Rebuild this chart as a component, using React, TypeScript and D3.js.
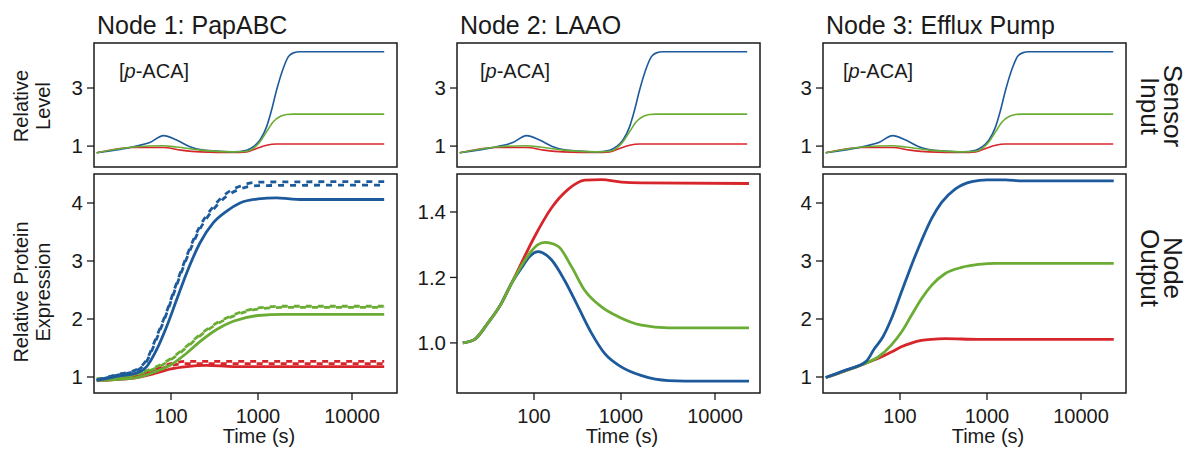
import React from 'react';
import * as d3 from 'd3';

type P = [number, number];

// ---------- data (time in s, relative value) ----------
const panelTitles = ['Node 1: PapABC', 'Node 2: LAAO', 'Node 3: Efflux Pump'];
const xTickValues = [100, 1000, 10000];
const sensorTicks = [1, 3];
const outputTicks = [[1, 2, 3, 4], [1.0, 1.2, 1.4], [1, 2, 3, 4]];

const sensorBlue: P[] = [[14,0.77],[37,0.98],[57,1.12],[82,1.36],[116,1.21],[165,0.98],[215,0.88],[335,0.83],[520,0.80],[741,0.86],[884,0.98],[1050,1.21],[1236,1.67],[1397,2.25],[1580,2.94],[1862,3.69],[2104,4.08],[2377,4.21],[2800,4.25],[22000,4.25]];
const sensorGreen: P[] = [[14,0.77],[37,0.97],[82,1.01],[116,0.97],[215,0.86],[520,0.80],[741,0.82],[884,0.92],[1050,1.15],[1236,1.5],[1455,1.84],[1714,2.02],[2018,2.09],[2377,2.1],[22000,2.1]];
const sensorRed: P[] = [[14,0.77],[37,0.95],[82,0.95],[130,0.86],[215,0.80],[520,0.78],[741,0.80],[966,0.92],[1236,1.03],[1580,1.07],[2018,1.07],[22000,1.07]];

const node1BlueSolid: P[] = [[14,0.94],[23.7,1.01],[40.3,1.07],[52.5,1.18],[68.4,1.47],[89.2,1.87],[116,2.33],[151,2.79],[215,3.31],[307,3.66],[437,3.86],[621,4.0],[1000,4.07],[1580,4.09],[2188,4.07],[2800,4.06],[22000,4.06]];
const node1BlueDashA: P[] = [[14,0.95],[23.7,1.04],[40.3,1.13],[52.5,1.3],[68.4,1.7],[89.2,2.13],[116,2.62],[151,3.08],[215,3.6],[307,3.94],[437,4.17],[621,4.29],[1000,4.36],[22000,4.37]];
const node1BlueDashB: P[] = [[14,0.94],[23.7,1.03],[40.3,1.11],[52.5,1.27],[68.4,1.66],[89.2,2.1],[116,2.58],[151,3.04],[215,3.55],[307,3.89],[437,4.12],[621,4.24],[1000,4.30],[22000,4.31]];
const node1GreenSolid: P[] = [[14,0.94],[37,0.98],[68.4,1.1],[100,1.21],[151,1.41],[215,1.61],[335,1.82],[520,1.96],[1000,2.06],[1862,2.08],[22000,2.08]];
const node1GreenDashA: P[] = [[14,0.97],[37,1.04],[68.4,1.18],[100,1.32],[151,1.53],[215,1.73],[335,1.93],[520,2.07],[1000,2.19],[1862,2.22],[22000,2.22]];
const node1GreenDashB: P[] = [[14,0.96],[37,1.03],[68.4,1.16],[100,1.30],[151,1.51],[215,1.71],[335,1.91],[520,2.05],[1000,2.17],[1862,2.20],[22000,2.20]];
const node1RedSolid: P[] = [[14,0.94],[37,0.98],[68.4,1.07],[100,1.14],[151,1.18],[257,1.2],[520,1.18],[22000,1.18]];
const node1RedDashA: P[] = [[14,0.95],[37,1.01],[68.4,1.14],[100,1.23],[151,1.27],[22000,1.27]];
const node1RedDashB: P[] = [[14,0.94],[37,1.0],[68.4,1.12],[100,1.20],[151,1.23],[22000,1.23]];

const node2Blue: P[] = [[15.2,1.0],[20.6,1.01],[29.4,1.06],[42,1.12],[54.7,1.18],[71.4,1.228],[89.1,1.264],[111,1.279],[158.6,1.254],[226,1.19],[322,1.11],[458,1.03],[652,0.967],[1016,0.926],[1660,0.90],[3188,0.885],[7210,0.883],[23000,0.883]];
const node2Green: P[] = [[15.2,1.0],[20.6,1.01],[29.4,1.06],[42,1.12],[54.7,1.18],[71.4,1.235],[93.2,1.28],[111,1.30],[132.8,1.307],[189.4,1.295],[269.8,1.233],[384,1.16],[597,1.11],[931,1.08],[1660,1.054],[3188,1.046],[23000,1.046]];
const node2Red: P[] = [[15.2,1.0],[20.6,1.01],[29.4,1.06],[42,1.12],[54.7,1.18],[71.4,1.243],[101.8,1.325],[158.6,1.412],[246.8,1.469],[384,1.497],[597,1.499],[1016,1.491],[1660,1.489],[23000,1.487]];

const node3Blue: P[] = [[14,0.99],[22.9,1.11],[40.8,1.27],[50.9,1.49],[63.5,1.69],[79.4,2.0],[103.6,2.46],[135,2.92],[176.6,3.35],[230.6,3.73],[301,4.01],[430,4.24],[670,4.37],[1000,4.40],[1567,4.40],[2357,4.38],[22300,4.38]];
const node3Green: P[] = [[14,0.99],[22.9,1.10],[40.8,1.24],[55.6,1.34],[79.4,1.55],[103.6,1.77],[135,2.06],[176.6,2.35],[230.6,2.58],[328,2.78],[513,2.89],[801,2.94],[1226,2.96],[22300,2.96]];
const node3Red: P[] = [[14,0.99],[22.9,1.10],[40.8,1.24],[55.6,1.32],[79.4,1.43],[103.6,1.52],[135,1.585],[176.6,1.63],[230.6,1.65],[328,1.66],[801,1.65],[22300,1.65]];

// ---------- styles / layout ----------
const BLUE = '#1d5a9b';
const GREEN = '#6aac34';
const RED = '#d7262b';
const INK = '#1a1a1a';
const FONT = '"Liberation Sans", Arial, Helvetica, sans-serif';

const panelLefts = [94, 457, 823];
const panelWidth = 303;
const topY0 = 43, topY1 = 167;
const botY0 = 174, botY1 = 393;
const outputDomains: [number, number][] = [[0.724, 4.5], [0.847, 1.516], [0.724, 4.5]];
const outputFormats = [d3.format('d'), d3.format('.1f'), d3.format('d')];
const acaOffsets = [25, 23, 20];

type Series = { data: P[]; color: string; dash?: string; offset?: number };

const outputSeries: Series[][] = [
  [
    { data: node1RedDashB, color: RED, dash: '6,6', offset: 6 },
    { data: node1RedDashA, color: RED, dash: '6,6', offset: 0 },
    { data: node1RedSolid, color: RED },
    { data: node1GreenSolid, color: GREEN },
    { data: node1GreenDashB, color: GREEN, dash: '6,6', offset: 6 },
    { data: node1GreenDashA, color: GREEN, dash: '6,6', offset: 0 },
    { data: node1BlueSolid, color: BLUE },
    { data: node1BlueDashB, color: BLUE, dash: '6,6', offset: 6 },
    { data: node1BlueDashA, color: BLUE, dash: '6,6', offset: 0 },
  ],
  [
    { data: node2Red, color: RED },
    { data: node2Blue, color: BLUE },
    { data: node2Green, color: GREEN },
  ],
  [
    { data: node3Red, color: RED },
    { data: node3Green, color: GREEN },
    { data: node3Blue, color: BLUE },
  ],
];

const sensorSeries: Series[] = [
  { data: sensorRed, color: RED },
  { data: sensorBlue, color: BLUE },
  { data: sensorGreen, color: GREEN },
];

function Panel({ i }: { i: number }) {
  const L = panelLefts[i];
  const x = d3.scaleLog()
    .domain([10, 100, 1000, 10000, 100000])
    .range([L + 77 - 87, L + 77, L + 164, L + 258, L + 352]);
  const yTop = d3.scaleLinear().domain([0.28, 4.55]).range([topY1, topY0]);
  const yBot = d3.scaleLinear().domain(outputDomains[i]).range([botY1, botY0]);
  const lineTop = d3.line<P>().x(d => x(d[0])).y(d => yTop(d[1])).curve(d3.curveMonotoneX);
  const lineBot = d3.line<P>().x(d => x(d[0])).y(d => yBot(d[1])).curve(d3.curveMonotoneX);
  const fmt = outputFormats[i];
  return (
    <g>
      <text x={L + 3} y={34} fontSize={25} fill={INK} fontFamily={FONT}>{panelTitles[i]}</text>
      {/* top sensor panel */}
      {sensorSeries.map((s, k) => (
        <path key={k} d={lineTop(s.data) || ''} fill="none" stroke={s.color} strokeWidth={1.6} />
      ))}
      <rect x={L} y={topY0} width={panelWidth} height={topY1 - topY0} fill="none" stroke={INK} strokeWidth={1.5} />
      <text x={L + acaOffsets[i]} y={78} fontSize={20} fill={INK} fontFamily={FONT}>
        [<tspan fontStyle="italic">p</tspan>-ACA]
      </text>
      {sensorTicks.map(t => (
        <g key={t}>
          <line x1={L - 7} x2={L} y1={yTop(t)} y2={yTop(t)} stroke={INK} strokeWidth={1.3} />
          <text x={L - 11} y={yTop(t)} dy="0.36em" textAnchor="end" fontSize={20.5} fill={INK} fontFamily={FONT}>{t}</text>
        </g>
      ))}
      {/* bottom output panel */}
      {outputSeries[i].map((s, k) => (
        <path key={k} d={lineBot(s.data) || ''} fill="none" stroke={s.color} strokeWidth={2.8}
          strokeDasharray={s.dash} strokeDashoffset={s.offset} />
      ))}
      <rect x={L} y={botY0} width={panelWidth} height={botY1 - botY0} fill="none" stroke={INK} strokeWidth={1.5} />
      {outputTicks[i].map(t => (
        <g key={t}>
          <line x1={L - 7} x2={L} y1={yBot(t)} y2={yBot(t)} stroke={INK} strokeWidth={1.3} />
          <text x={L - 11} y={yBot(t)} dy="0.36em" textAnchor="end" fontSize={20.5} fill={INK} fontFamily={FONT}>{fmt(t)}</text>
        </g>
      ))}
      {xTickValues.map(t => (
        <g key={t}>
          <line x1={x(t)} x2={x(t)} y1={botY1} y2={botY1 + 7} stroke={INK} strokeWidth={1.3} />
          <text x={x(t)} y={423} textAnchor="middle" fontSize={20} fill={INK} fontFamily={FONT}>{t}</text>
        </g>
      ))}
      <text x={x(1000) + 1} y={443} textAnchor="middle" fontSize={20} fill={INK} fontFamily={FONT}>Time (s)</text>
    </g>
  );
}

export default function App() {
  return (
    <svg width={1193} height={450} style={{ position: 'absolute', left: 0, top: 0, background: '#fff' }}>
      <rect x={0} y={0} width={1193} height={450} fill="#fff" />
      {[0, 1, 2].map(i => <Panel key={i} i={i} />)}
      {/* left axis labels */}
      <g transform="translate(28,106) rotate(-90)">
        <text textAnchor="middle" fontSize={20} fill={INK} fontFamily={FONT}>Relative</text>
      </g>
      <g transform="translate(50,106) rotate(-90)">
        <text textAnchor="middle" fontSize={20} fill={INK} fontFamily={FONT}>Level</text>
      </g>
      <g transform="translate(28,292) rotate(-90)">
        <text textAnchor="middle" fontSize={20} fill={INK} fontFamily={FONT}>Relative Protein</text>
      </g>
      <g transform="translate(50,292) rotate(-90)">
        <text textAnchor="middle" fontSize={20} fill={INK} fontFamily={FONT}>Expression</text>
      </g>
      {/* right row labels */}
      <g transform="translate(1164,106) rotate(90)">
        <text textAnchor="middle" fontSize={26} fill={INK} fontFamily={FONT}>Sensor</text>
      </g>
      <g transform="translate(1141,106) rotate(90)">
        <text textAnchor="middle" fontSize={26} fill={INK} fontFamily={FONT}>Input</text>
      </g>
      <g transform="translate(1164,268) rotate(90)">
        <text textAnchor="middle" fontSize={26} fill={INK} fontFamily={FONT}>Node</text>
      </g>
      <g transform="translate(1141,268) rotate(90)">
        <text textAnchor="middle" fontSize={26} fill={INK} fontFamily={FONT}>Output</text>
      </g>
    </svg>
  );
}
